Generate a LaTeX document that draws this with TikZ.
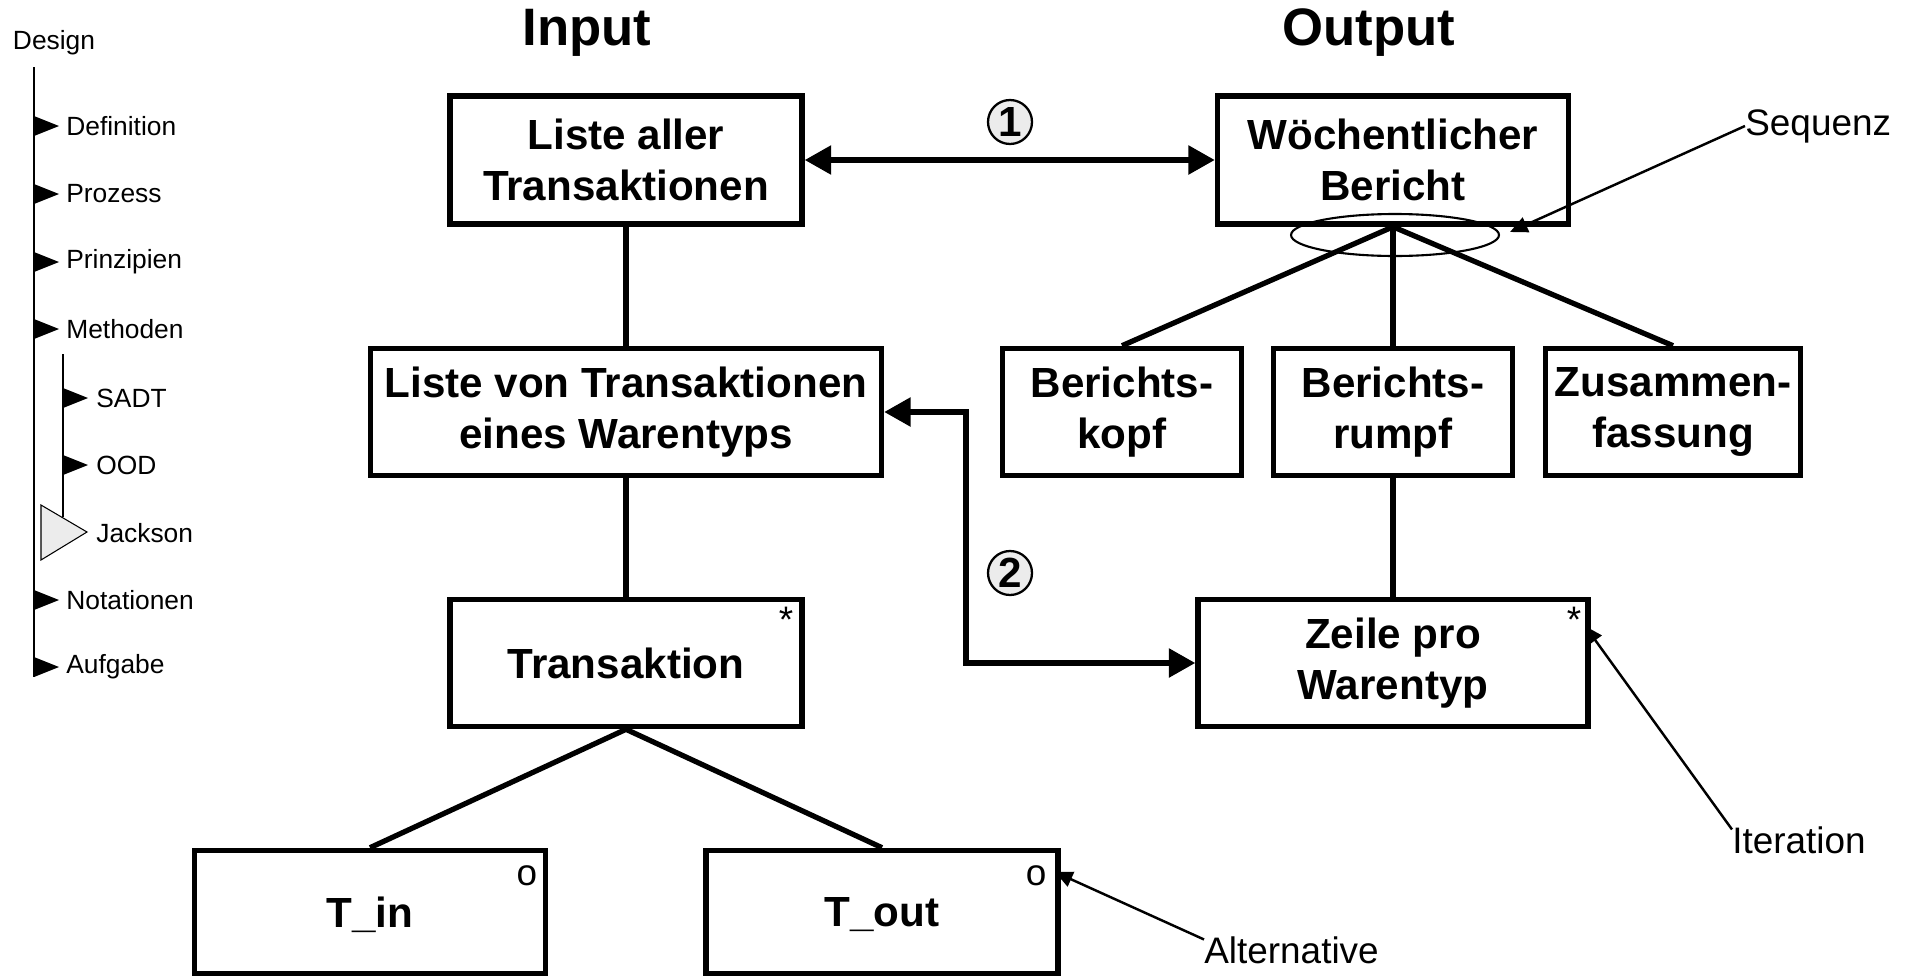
\documentclass[tikz,border=0pt]{standalone}
\usepackage{fontspec}
\setmainfont{Liberation Sans}
\usetikzlibrary{arrows.meta}

\begin{document}
\begin{tikzpicture}[x=0.02cm, y=-0.02cm,
    box/.style={draw, line width=3.2pt, inner sep=0pt, align=center,
                font=\fontsize{24}{29}\selectfont\bfseries, minimum height=2.54cm},
    conn/.style={line width=3pt},
    dbl/.style={line width=3pt, {Triangle[length=15pt,width=16pt]}-{Triangle[length=15pt,width=16pt]}},
    note/.style={anchor=west, inner sep=0pt, font=\fontsize{21}{25}\selectfont},
    hint/.style={line width=1.4pt, -{Triangle[length=10pt,width=9pt]}},
    corner/.style={inner sep=0pt, font=\fontsize{21}{25}\selectfont},
    nummer/.style={circle, draw, line width=1.3pt, fill=gray!15, minimum size=0.88cm,
                   inner sep=0pt, font=\fontsize{24}{28}\selectfont\bfseries},
    titel/.style={font=\fontsize{30}{36}\selectfont\bfseries},
    menu/.style={anchor=west, inner sep=0pt, font=\fontsize{15}{18}\selectfont},
    tick/.style={fill=black}]
    \useasboundingbox (0,0) rectangle (1913,977);

    % Navigation
    \node[menu, anchor=center] (design) at (54,43) {Design};
    \draw[line width=1.2pt] (34,67) -- (34,677);
    \draw[line width=1.2pt] (63,354) -- (63,517);
    \fill[tick] (34,116) -- (59,126) -- (34,136) -- cycle;
    \node[menu] (definition) at (66,126) {Definition};
    \fill[tick] (34,184) -- (59,194) -- (34,204) -- cycle;
    \node[menu] (prozess) at (66,194) {Prozess};
    \fill[tick] (34,252) -- (59,262) -- (34,272) -- cycle;
    \node[menu] (prinzipien) at (66,262) {Prinzipien};
    \fill[tick] (34,319) -- (59,329) -- (34,339) -- cycle;
    \node[menu] (methoden) at (66,329) {Methoden};
    \fill[tick] (63,388) -- (88,398) -- (63,408) -- cycle;
    \node[menu] (sadt) at (96,398) {SADT};
    \fill[tick] (63,455) -- (88,465) -- (63,475) -- cycle;
    \node[menu] (ood) at (96,465) {OOD};
    \filldraw[fill=gray!15, line width=0.6pt] (41,505) -- (87,532) -- (41,560) -- cycle;
    \node[menu] (jackson) at (96,533) {Jackson};
    \fill[tick] (34,590) -- (59,600) -- (34,610) -- cycle;
    \node[menu] (notationen) at (66,600) {Notationen};
    \fill[tick] (34,657) -- (59,667) -- (34,677) -- cycle;
    \node[menu] (aufgabe) at (66,667) {Aufgabe};

    % Input side
    \node[titel] (input) at (587,33) {Input};
    \node[box, minimum width=7.04cm, minimum height=2.56cm] (aller) at (626,160) {Liste aller\\Transaktionen};
    \node[box, minimum width=10.22cm] (vonwt) at (626,412) {Liste von Transaktionen\\eines Warentyps};
    \node[box, minimum width=7.04cm] (trans) at (626,663) {Transaktion};
    \node[corner] (sterntr) at (786,620) {*};
    \node[box, minimum width=7.02cm, minimum height=2.46cm, text depth=0pt] (tin) at (370,912) {T\_in};
    \node[corner] (otin) at (527,876) {o};
    \node[box, minimum width=7.04cm, minimum height=2.46cm, text depth=0pt] (tout) at (882,912) {T\_out};
    \node[corner] (otout) at (1036,876) {o};

    \draw[conn] (aller.south) -- (vonwt.north);
    \draw[conn] (vonwt.south) -- (trans.north);
    \draw[conn] (trans.south) -- (tin.north);
    \draw[conn] (trans.south) -- (tout.north);

    % Output side
    \node[titel] (output) at (1369,33) {Output};
    \node[box, minimum width=7.02cm, minimum height=2.56cm] (woche) at (1393,160) {Wöchentlicher\\Bericht};
    \node[box, minimum width=4.78cm] (kopf) at (1122,412) {Berichts-\\kopf};
    \node[box, minimum width=4.78cm] (rumpf) at (1393,412) {Berichts-\\rumpf};
    \node[box, minimum width=5.10cm] (zusam) at (1673,412) {Zusammen-\\fassung};
    \node[box, minimum width=7.80cm] (zeile) at (1393,663) {Zeile pro\\Warentyp};
    \node[corner] (sternz) at (1574,620) {*};

    \draw[line width=1.2pt] (1395,235) ellipse [x radius=2.08cm, y radius=0.42cm];
    \draw[conn] (woche.south) -- (kopf.north);
    \draw[conn] (woche.south) -- (rumpf.north);
    \draw[conn] (woche.south) -- (zusam.north);
    \draw[conn] (rumpf.south) -- (zeile.north);

    % Correspondences
    \draw[dbl] (aller.east) -- (woche.west);
    \node[nummer] (eins) at (1010,122) {1};
    \coordinate (knick) at (966,540);
    \draw[dbl] (vonwt.east) -| (knick) |- (zeile.west);
    \node[nummer] (zwei) at (1010,573) {2};

    % Notation hints
    \node[note] (seq) at (1745,126) {Sequenz};
    \coordinate (seqtip) at (1510,232);
    \draw[hint] (seq.west) -- (seqtip);
    \node[note] (iter) at (1732,840) {Iteration};
    \coordinate (itertip) at (1585,626);
    \draw[hint] ([yshift=6pt]iter.west) -- (itertip);
    \node[note] (alt) at (1204,950) {Alternative};
    \coordinate (alttip) at (1055,872);
    \draw[hint] ([yshift=6pt]alt.west) -- (alttip);
\end{tikzpicture}
\end{document}
